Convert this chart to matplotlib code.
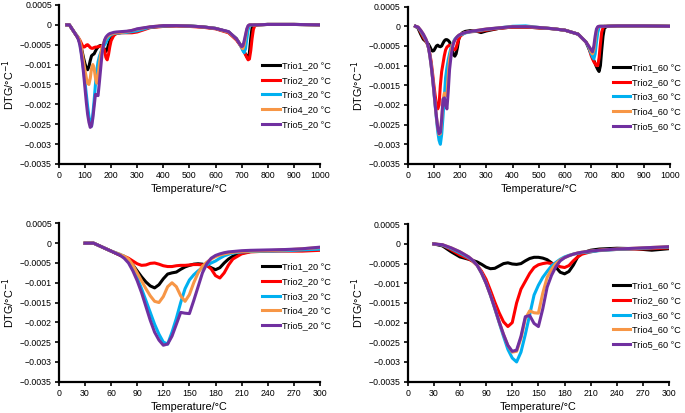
import matplotlib
matplotlib.use('Agg')
import matplotlib.pyplot as plt
import numpy as np

plt.rcParams['font.family'] = ['Liberation Sans', 'DejaVu Sans']
plt.rcParams['axes.unicode_minus'] = True

# temperature grid, deg C
temp = [30, 40, 50, 60, 70, 75, 80, 85, 90, 95, 100, 105, 110, 115, 120, 125, 130, 135, 140, 145,
        150, 155, 160, 165, 170, 175, 180, 185, 190, 195, 200, 210, 220, 240, 260, 280, 300,
        350, 400, 450, 500, 550, 600, 650, 680, 690, 700, 705, 710, 715, 720, 725, 730, 735, 740,
        745, 750, 760, 800, 900, 1000]

# DTG values in units of 1e-4 /degC
trio1_20 = [0, 0, -1, -2, -3, -3.5, -4.5, -5.5, -7, -8.5, -9.8, -10.8, -11.3, -10.5, -9, -7.8, -7.5, -7.3, -6.6, -6,
            -5.6, -5.3, -5.2, -5.3, -5.6, -6.2, -6.7, -6.2, -5, -4, -3.3, -2.5, -2.1, -1.9, -1.8, -1.6, -1.2,
            -0.6, -0.3, -0.2, -0.3, -0.5, -0.9, -1.8, -3.5, -4.5, -5.5, -6, -6.8, -7.4, -8, -8.5, -7, -3.5, -0.8,
            -0.2, 0, 0, 0.1, 0.1, 0]
trio2_20 = [0, 0, -1, -2, -3, -3.3, -3.8, -4.5, -5.2, -5.6, -5.5, -5.1, -5, -5.3, -5.7, -5.9, -5.9, -5.7, -5.6, -5.6,
            -5.5, -5.4, -5.4, -5.5, -5.6, -6.5, -8.2, -8.8, -7.5, -5.5, -4, -2.7, -2.2, -2, -2, -2, -1.8,
            -0.7, -0.4, -0.3, -0.4, -0.6, -1, -2, -3.8, -4.7, -5.6, -6.2, -6.8, -7.5, -8.2, -8.8, -8.6, -6.5, -3.5,
            -1.2, -0.3, 0, 0.1, 0.1, 0]
trio3_20 = [0, 0, -1, -2, -2.8, -3.3, -4.5, -6.5, -8.8, -11.5, -14.5, -17.5, -20.5, -23, -25, -25.5, -22.5, -19, -15, -11.5,
            -9.3, -8, -7, -6.2, -5.5, -5, -4.5, -3.8, -3.2, -2.8, -2.5, -2.2, -2.1, -2, -1.9, -1.7, -1.5,
            -0.6, -0.3, -0.2, -0.3, -0.5, -0.9, -1.8, -3.5, -4.5, -5.8, -6.5, -7, -6, -3.5, -1.2, -0.3, 0, 0,
            0, 0, 0, 0.1, 0.1, 0]
trio4_20 = [0, 0, -1, -2, -2.8, -3.3, -4, -5.5, -7.5, -9.5, -11.5, -13.3, -14.7, -15, -13.5, -11, -10, -11, -13.3, -14.7,
            -13, -10, -7.5, -5.8, -4.8, -4, -3.4, -3, -2.7, -2.5, -2.3, -2.1, -2, -1.9, -1.7, -1.4, -1.1,
            -0.5, -0.2, -0.2, -0.3, -0.5, -0.9, -1.8, -3.5, -4.5, -5.7, -6, -5, -3, -1.2, -0.3, 0, 0, 0,
            0, 0, 0, 0.1, 0.1, 0]
trio5_20 = [0, 0, -1, -2, -3, -3.8, -5, -7, -9.5, -12.5, -16, -19.5, -22.5, -24.5, -25.8, -25.5, -23.5, -20.5, -17.5, -17.7,
            -17.8, -14.5, -11, -7.5, -5.2, -3.8, -3.1, -2.7, -2.4, -2.2, -2.1, -1.9, -1.8, -1.7, -1.6, -1.4, -1,
            -0.5, -0.2, -0.2, -0.3, -0.5, -0.9, -1.7, -3.5, -4.5, -5.5, -5.3, -4, -2.5, -1, -0.2, 0, 0, 0,
            0, 0, 0, 0.1, 0.1, 0]

trio1_60 = [0, -0.5, -2, -3.3, -3.9, -4.2, -4.6, -5.2, -5.9, -6.3, -6.2, -5.6, -5, -4.8, -5.1, -5.2, -5, -4.3, -3.7, -3.4,
            -3.4, -3.6, -4, -4.8, -5.9, -7.2, -7.6, -7, -5.4, -3.3, -2.3, -1.6, -1.3, -1.1, -1.2, -1.6, -1.2,
            -0.5, -0.2, -0.2, -0.4, -0.6, -1, -2, -4, -5.5, -7, -7.8, -8.7, -9.5, -10.3, -11, -11.5, -10, -6,
            -2.5, -0.5, 0, 0.1, 0.1, 0]
trio2_60 = [0, -0.3, -1.5, -2.8, -3.8, -4.5, -5.5, -7, -9, -11.8, -14.8, -17.5, -19.8, -21, -20, -15, -11.5, -9.5, -7.5, -6,
            -5.3, -5, -4.8, -5, -5.3, -5.8, -6, -5.5, -4.3, -3.3, -2.6, -2, -1.6, -1.4, -1.3, -1.2, -1,
            -0.5, -0.2, -0.2, -0.4, -0.6, -1, -2, -4, -5.3, -7.5, -8.3, -9, -9.5, -10, -10, -8, -4.5, -1.5,
            -0.4, 0, 0, 0.1, 0.1, 0]
trio3_60 = [0, -0.3, -1.2, -2.3, -3.5, -4.3, -5.5, -7.5, -10, -13, -16.5, -20, -23.5, -26.8, -29, -30, -27.5, -23, -18, -13,
            -10.5, -8.5, -7, -5.6, -4.7, -3.9, -3.3, -2.9, -2.6, -2.4, -2.2, -2, -1.7, -1.4, -1.2, -1, -0.8,
            -0.4, 0, 0.1, -0.3, -0.6, -1, -2, -4, -5.3, -7, -7.8, -8.3, -7, -4, -1.5, -0.3, 0, 0,
            0, 0, 0, 0.1, 0.1, 0]
trio4_60 = [0, -0.2, -1, -2, -3.3, -4.2, -5.5, -7.5, -10, -13, -16.3, -19.8, -23, -25.8, -27.5, -27.3, -24, -19, -17, -17.5,
            -17.6, -12.5, -8.5, -6.5, -5, -4.1, -3.5, -3, -2.6, -2.3, -2.1, -1.8, -1.6, -1.3, -1.1, -0.9, -0.7,
            -0.4, -0.1, -0.1, -0.3, -0.6, -1, -2, -4, -5, -6.5, -7, -6, -3.5, -1, -0.2, 0, 0, 0,
            0, 0, 0, 0.1, 0.1, 0]
trio5_60 = [0, -0.2, -1, -2, -3.3, -4.2, -5.5, -7.5, -10, -13, -16.3, -19.8, -23, -25.8, -27.3, -27, -23.5, -18.5, -18.2, -20.2,
            -21, -16.5, -11, -8, -5.8, -4.3, -3.5, -3, -2.6, -2.3, -2.1, -1.8, -1.6, -1.3, -1.1, -0.9, -0.7,
            -0.4, -0.1, -0.1, -0.3, -0.6, -1, -2, -4, -5, -6, -6.5, -5, -2.5, -0.7, -0.1, 0, 0, 0,
            0, 0, 0, 0.1, 0.1, 0]

colors = ['#000000', '#ff0000', '#00b0f0', '#f79646', '#7030a0']
series_20 = [trio1_20, trio2_20, trio3_20, trio4_20, trio5_20]
series_60 = [trio1_60, trio2_60, trio3_60, trio4_60, trio5_60]
labels_20 = ['Trio1_20 \u00b0C', 'Trio2_20 \u00b0C', 'Trio3_20 \u00b0C', 'Trio4_20 \u00b0C', 'Trio5_20 \u00b0C']
labels_60 = ['Trio1_60 \u00b0C', 'Trio2_60 \u00b0C', 'Trio3_60 \u00b0C', 'Trio4_60 \u00b0C', 'Trio5_60 \u00b0C']
yticks = [0.0005, 0, -0.0005, -0.001, -0.0015, -0.002, -0.0025, -0.003, -0.0035]
yticklabels = ['0.0005', '0', '\u22120.0005', '\u22120.001', '\u22120.0015', '\u22120.002',
               '\u22120.0025', '\u22120.003', '\u22120.0035']

fig = plt.figure(figsize=(6.85, 4.13), dpi=100)


def panel(rect, series, labels, xmax, xstep, leg_x, leg_y):
    ax = fig.add_axes(rect)
    t = np.array(temp)
    for s, c, lab in zip(series, colors, labels):
        ax.plot(t, np.array(s) * 1e-4, color=c, lw=2.2, label=lab, solid_joinstyle='round')
    ax.set_xlim(0, xmax)
    ax.set_ylim(-0.0035, 0.0005)
    ax.set_xticks(np.arange(0, xmax + 1, xstep))
    ax.set_yticks(yticks)
    ax.set_yticklabels(yticklabels)
    for sp in ['top', 'right']:
        ax.spines[sp].set_visible(False)
    for sp in ['left', 'bottom']:
        ax.spines[sp].set_linewidth(1.6)
    ax.tick_params(labelsize=6.3, width=1.2, length=3, pad=2)
    ax.set_xlabel('Temperature/\u00b0C', fontsize=7.8, labelpad=3)
    ax.set_ylabel('DTG/\u00b0C$^{\u22121}$', fontsize=7.8, labelpad=2)
    ax.legend(loc='center left', bbox_to_anchor=(leg_x, leg_y), frameon=False, fontsize=6.6,
              handlelength=1.9, handletextpad=0.2, labelspacing=0.62, borderpad=0, borderaxespad=0)
    return ax


panel([0.086, 0.603, 0.381, 0.385], series_20, labels_20, 1000, 100, 0.78, 0.434)
panel([0.595, 0.603, 0.383, 0.381], series_60, labels_60, 1000, 100, 0.783, 0.426)
panel([0.086, 0.076, 0.381, 0.383], series_20, labels_20, 300, 30, 0.78, 0.539)
panel([0.595, 0.076, 0.382, 0.381], series_60, labels_60, 300, 30, 0.785, 0.421)

fig.savefig('out.png', dpi=100)
